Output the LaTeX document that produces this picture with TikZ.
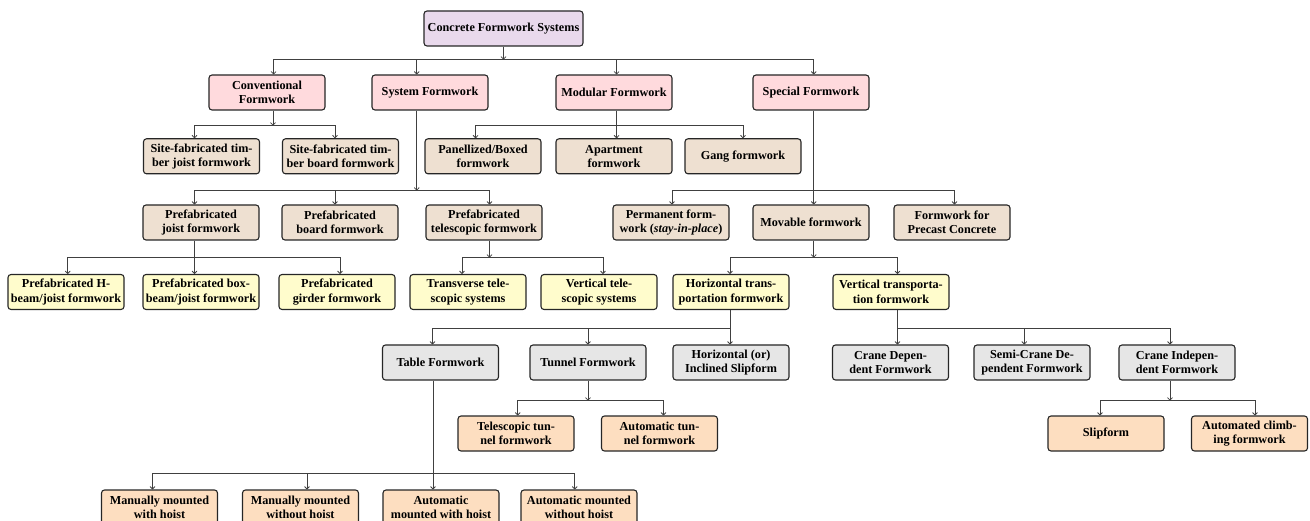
\documentclass[tikz,border=0pt]{standalone}
\usepackage{fontspec}
\setmainfont{Liberation Serif}
\usetikzlibrary{arrows.meta}
\definecolor{cRoot}{RGB}{233,217,236}
\definecolor{cPink}{RGB}{255,218,221}
\definecolor{cBeige}{RGB}{238,224,209}
\definecolor{cYellow}{RGB}{255,252,204}
\definecolor{cGray}{RGB}{230,230,230}
\definecolor{cPeach}{RGB}{253,222,192}
\newcommand\boxfont{\fontsize{12.2pt}{14.5pt}\selectfont\bfseries}
\tikzset{
  box/.style={draw=black!85, line width=1.1pt, rounded corners=3pt,
    minimum width=116pt, minimum height=35pt, align=center,
    inner xsep=2pt, inner ysep=2pt, font=\boxfont},
  c0/.style={box, fill=cRoot, minimum width=159pt},
  c1/.style={box, fill=cPink},
  c2/.style={box, fill=cBeige},
  c3/.style={box, fill=cYellow},
  c4/.style={box, fill=cGray},
  c5/.style={box, fill=cPeach},
  ln/.style={draw=black!75, line width=0.8pt},
  arr/.style={ln, -{To[length=3.2pt,width=5.5pt]}},
}
\begin{document}
\begin{tikzpicture}[x=1pt,y=1pt]
\clip (0,0) rectangle (1310,-521);
% row 1
\node[c0] (root) at (503.5,-28.5) {Concrete Formwork Systems};
% row 2
\node[c1] (conv) at (267,-92.5) {Conventional\\Formwork};
\node[c1] (sys)  at (430,-92.5) {System Formwork};
\node[c1] (mod)  at (614,-92.5) {Modular Formwork};
\node[c1] (spec) at (811,-92.5) {Special Formwork};
% row 3
\node[c2] (sfj)  at (201.5,-156.3) {Site-fabricated tim-\\ber joist formwork};
\node[c2] (sfb)  at (340.5,-156.3) {Site-fabricated tim-\\ber board formwork};
\node[c2] (pan)  at (483,-156.3) {Panellized/Boxed\\formwork};
\node[c2] (apt)  at (614,-156.3) {Apartment\\formwork};
\node[c2] (gang) at (743,-156.3) {Gang formwork};
% row 4
\node[c2] (pj)   at (201,-222.5) {Prefabricated\\joist formwork};
\node[c2] (pb)   at (340,-222.5) {Prefabricated\\board formwork};
\node[c2] (pt)   at (484,-222.5) {Prefabricated\\telescopic formwork};
\node[c2] (perm) at (671,-222.5) {Permanent form-\\work (\textit{stay-in-place})};
\node[c2] (mov)  at (811,-222.5) {Movable formwork};
\node[c2] (prec) at (952,-222.5) {Formwork for\\Precast Concrete};
% row 5
\node[c3] (ph)   at (66,-292) {Prefabricated H-\\beam/joist formwork};
\node[c3] (pbox) at (201,-292) {Prefabricated box-\\beam/joist formwork};
\node[c3] (pg)   at (337,-292) {Prefabricated\\girder formwork};
\node[c3] (tt)   at (468,-292) {Transverse tele-\\scopic systems};
\node[c3] (vt)   at (599,-292) {Vertical tele-\\scopic systems};
\node[c3] (ht)   at (731,-292) {Horizontal trans-\\portation formwork};
\node[c3] (vtr)  at (891,-292) {Vertical transporta-\\tion formwork};
% row 6
\node[c4] (table)  at (440.5,-362.5) {Table Formwork};
\node[c4] (tunnel) at (588,-362.5) {Tunnel Formwork};
\node[c4] (hslip)  at (731,-362.5) {Horizontal (or)\\Inclined Slipform};
\node[c4] (cd)     at (890.5,-362.5) {Crane Depen-\\dent Formwork};
\node[c4] (scd)    at (1032,-362.5) {Semi-Crane De-\\pendent Formwork};
\node[c4] (ci)     at (1177,-362.5) {Crane Indepen-\\dent Formwork};
% row 7
\node[c5] (ttun) at (516,-433.5) {Telescopic tun-\\nel formwork};
\node[c5] (atun) at (659.5,-433.5) {Automatic tun-\\nel formwork};
\node[c5] (slip) at (1106,-433.5) {Slipform};
\node[c5] (acl)  at (1249.5,-433.5) {Automated climb-\\ing formwork};
% row 8
\node[c5] (m1) at (159.5,-507.5) {Manually mounted\\with hoist};
\node[c5] (m2) at (300.5,-507.5) {Manually mounted\\without hoist};
\node[c5] (a1) at (441,-507.5) {Automatic\\mounted with hoist};
\node[c5] (a2) at (579,-507.5) {Automatic mounted\\without hoist};
% connectors
\draw[arr] (root.south) -- ++(0,-13) coordinate (j0);
\draw[arr] (j0) -| ([xshift=6.6pt]conv.north);
\draw[arr] (j0) -| ([xshift=-13.3pt]sys.north);
\draw[arr] (j0) -| ([xshift=2.6pt]mod.north);
\draw[arr] (j0) -| ([xshift=2.7pt]spec.north);

\draw[arr] ([xshift=6pt]conv.south) -- ++(0,-15) coordinate (j1);
\draw[arr] (j1) -| ([xshift=-7pt]sfj.north);
\draw[arr] (j1) -| ([xshift=-5.5pt]sfb.north);

\draw[arr] ([xshift=-13.3pt]sys.south) -- ++(0,-80) coordinate (j2);
\draw[arr] (j2) -| ([xshift=-6.5pt]pj.north);
\draw[arr] (j2) -| ([xshift=-5pt]pb.north);
\draw[arr] (j2) -| ([xshift=5.5pt]pt.north);

\draw[ln] ([xshift=2.6pt]mod.south) -- ++(0,-15) coordinate (j3);
\draw[arr] (j3) -| ([xshift=-7.4pt]pan.north);
\draw[arr] (j3) -| ([xshift=2.6pt]apt.north);
\draw[arr] (j3) -| (gang.north);

\draw[ln] ([xshift=2.7pt]spec.south) -- ++(0,-80) coordinate (j4);
\draw[arr] (j4) -| ([xshift=1pt]perm.north);
\draw[arr] (j4) -| ([xshift=2.7pt]mov.north);
\draw[arr] (j4) -| ([xshift=2.5pt]prec.north);

\draw[ln] ([xshift=-6.5pt]pj.south) -- ++(0,-17) coordinate (j5);
\draw[arr] (j5) -| ([xshift=1.7pt]ph.north);
\draw[arr] (j5) -| ([xshift=-6.5pt]pbox.north);
\draw[arr] (j5) -| ([xshift=3pt]pg.north);

\draw[arr] ([xshift=5.5pt]pt.south) -- ++(0,-17) coordinate (j6);
\draw[arr] (j6) -| ([xshift=-6pt]tt.north);
\draw[arr] (j6) -| ([xshift=4pt]vt.north);

\draw[arr] ([xshift=2.7pt]mov.south) -- ++(0,-17) coordinate (j7);
\draw[arr] (j7) -| ([xshift=-1pt]ht.north);
\draw[arr] (j7) -| ([xshift=6.5pt]vtr.north);

\draw[ln] ([xshift=-1pt]ht.south) -- ++(0,-18.5) coordinate (j8);
\draw[arr] (j8) -| ([xshift=-8pt]table.north);
\draw[arr] (j8) -| (tunnel.north);
\draw[arr] (j8) -| ([xshift=-1pt]hslip.north);

\draw[ln] ([xshift=6.5pt]vtr.south) -- ++(0,-18.5) coordinate (j9);
\draw[arr] (j9) -| ([xshift=7pt]cd.north);
\draw[arr] (j9) -| ([xshift=-7.7pt]scd.north);
\draw[arr] (j9) -| ([xshift=-7pt]ci.north);

\draw[arr] (tunnel.south) -- ++(0,-20) coordinate (j10);
\draw[arr] (j10) -| ([xshift=1.7pt]ttun.north);
\draw[arr] (j10) -| ([xshift=4pt]atun.north);

\draw[arr] ([xshift=-7pt]ci.south) -- ++(0,-20) coordinate (j11);
\draw[arr] (j11) -| ([xshift=-6pt]slip.north);
\draw[arr] (j11) -| ([xshift=5.5pt]acl.north);

\draw[ln] ([xshift=-7.5pt]table.south) -- ++(0,-93) coordinate (j12);
\draw[arr] (j12) -| ([xshift=-7pt]m1.north);
\draw[arr] (j12) -| ([xshift=6.5pt]m2.north);
\draw[arr] (j12) -| ([xshift=-8pt]a1.north);
\draw[arr] (j12) -| ([xshift=-4.3pt]a2.north);
\end{tikzpicture}
\end{document}
